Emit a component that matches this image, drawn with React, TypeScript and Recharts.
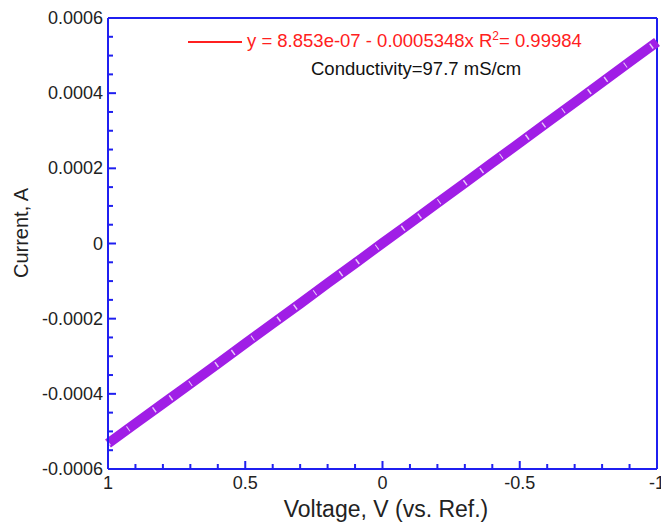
import {
    ComposedChart,
    Line,
    ReferenceLine,
    XAxis,
    YAxis,
} from "recharts";

// measured I–V sweep
const voltage = [
    1, 0.9, 0.8, 0.7, 0.6, 0.5, 0.4, 0.3, 0.2, 0.1, 0,
    -0.1, -0.2, -0.3, -0.4, -0.5, -0.6, -0.7, -0.8, -0.9, -1,
];
const current = [
    -0.000532, -0.000479, -0.000426, -0.000373, -0.00032, -0.000266, -0.000213,
    -0.00016, -0.000106, -0.000053, 0.000001, 0.000054, 0.000108, 0.000161,
    0.000215, 0.000268, 0.000322, 0.000375, 0.000429, 0.000483, 0.000536,
];

// linear fit coefficients (from the legend)
const fitIntercept = 8.853e-7;
const fitSlope = -0.0005348;
const fitX = [1, -1];

const xMajorTicks = [1, 0.5, 0, -0.5, -1];
const xMinorTicks = [0.9, 0.8, 0.7, 0.6, 0.4, 0.3, 0.2, 0.1, -0.1, -0.2, -0.3, -0.4, -0.6, -0.7, -0.8, -0.9];
const xTickLabels = ["1", "0.5", "0", "-0.5", "-1"];

const yMajorTicks = [0.0006, 0.0004, 0.0002, 0, -0.0002, -0.0004, -0.0006];
const yMinorTicks = [
    0.00055, 0.0005, 0.00045, 0.00035, 0.0003, 0.00025, 0.00015, 0.0001, 0.00005,
    -0.00005, -0.0001, -0.00015, -0.00025, -0.0003, -0.00035, -0.00045, -0.0005, -0.00055,
];
const yTickLabels = ["0.0006", "0.0004", "0.0002", "0", "-0.0002", "-0.0004", "-0.0006"];

const AXIS = "#1f1ff0";
const FONT = "'Liberation Sans', Arial, sans-serif";

const rows = voltage.map((v, i) => ({ v, i: current[i] }));
const fitRows = fitX.map((v) => ({ v, fit: fitIntercept + fitSlope * v }));
const data = [...rows, ...fitRows];

function XTick(props: any) {
    const { x, y, payload } = props;
    const idx = xMajorTicks.indexOf(payload.value);
    const major = idx >= 0;
    return (
        <g>
            <line x1={x} x2={x} y1={y} y2={y - (major ? 8 : 5)} stroke={AXIS} strokeWidth={2} />
            {major && (
                <text x={x} y={y + 20} textAnchor="middle" fontSize={18} fill="#222" fontFamily={FONT}>
                    {xTickLabels[idx]}
                </text>
            )}
        </g>
    );
}

function YTick(props: any) {
    const { x, y, payload } = props;
    const idx = yMajorTicks.findIndex((t) => Math.abs(t - payload.value) < 1e-9);
    const major = idx >= 0;
    return (
        <g>
            <line x1={x} x2={x + (major ? 8 : 5)} y1={y} y2={y} stroke={AXIS} strokeWidth={2} />
            {major && (
                <text x={x - 5} y={y + 6} textAnchor="end" fontSize={18} fill="#222" fontFamily={FONT}>
                    {yTickLabels[idx]}
                </text>
            )}
        </g>
    );
}

export default function App() {
    return (
        <div style={{ position: "absolute", left: 0, top: 0, width: 661, height: 525, background: "#fff", fontFamily: FONT, overflow: "hidden" }}>
            <ComposedChart
                width={661}
                height={525}
                data={data}
                margin={{ top: 18, right: 4, bottom: 0, left: 0 }}
            >
                <XAxis
                    dataKey="v"
                    type="number"
                    domain={[-1, 1]}
                    reversed
                    ticks={[...xMajorTicks, ...xMinorTicks]}
                    tick={<XTick />}
                    tickLine={false}
                    tickSize={0}
                    tickMargin={0}
                    height={56}
                    axisLine={{ stroke: AXIS, strokeWidth: 2 }}
                    interval={0}
                />
                <YAxis
                    type="number"
                    domain={[-0.0006, 0.0006]}
                    ticks={[...yMajorTicks, ...yMinorTicks]}
                    tick={<YTick />}
                    tickLine={false}
                    tickSize={0}
                    tickMargin={0}
                    width={108}
                    axisLine={{ stroke: AXIS, strokeWidth: 2 }}
                    interval={0}
                />
                <ReferenceLine y={0.0006} stroke={AXIS} strokeWidth={2} />
                <ReferenceLine x={-1} stroke={AXIS} strokeWidth={2} />
                <Line
                    dataKey="fit"
                    stroke="#ff2020"
                    strokeWidth={1.5}
                    dot={false}
                    connectNulls
                    isAnimationActive={false}
                />
                <Line
                    dataKey="i"
                    stroke="#a01ee6"
                    strokeWidth={10}
                    dot={false}
                    connectNulls
                    isAnimationActive={false}
                />
                {/* thin gaps between the overlapping square markers */}
                <Line
                    dataKey="i"
                    stroke="#ffffff"
                    strokeOpacity={0.75}
                    strokeWidth={6}
                    strokeDasharray="1.5 23 1 31 1.5 19"
                    dot={false}
                    connectNulls
                    legendType="none"
                    isAnimationActive={false}
                />
            </ComposedChart>

            <div style={{ position: "absolute", left: 188, top: 41, width: 54, height: 2, background: "#ff2020" }} />
            <div style={{ position: "absolute", left: 247, top: 30, fontSize: 18.5, lineHeight: "22px", color: "#ff2020", whiteSpace: "nowrap" }}>
                y = 8.853e-07 - 0.0005348x R<sup style={{ fontSize: 12, lineHeight: 0 }}>2</sup>= 0.99984
            </div>
            <div style={{ position: "absolute", left: 311, top: 58, fontSize: 18.5, lineHeight: "22px", color: "#111", whiteSpace: "nowrap" }}>
                Conductivity=97.7 mS/cm
            </div>
            <div style={{ position: "absolute", left: 386, top: 496, fontSize: 23, lineHeight: "26px", color: "#222", whiteSpace: "nowrap", transform: "translateX(-50%)" }}>
                Voltage, V (vs. Ref.)
            </div>
            <div style={{ position: "absolute", left: 21, top: 233, fontSize: 20, lineHeight: "22px", color: "#222", whiteSpace: "nowrap", transform: "translate(-50%, -50%) rotate(-90deg)" }}>
                Current, A
            </div>
        </div>
    );
}
